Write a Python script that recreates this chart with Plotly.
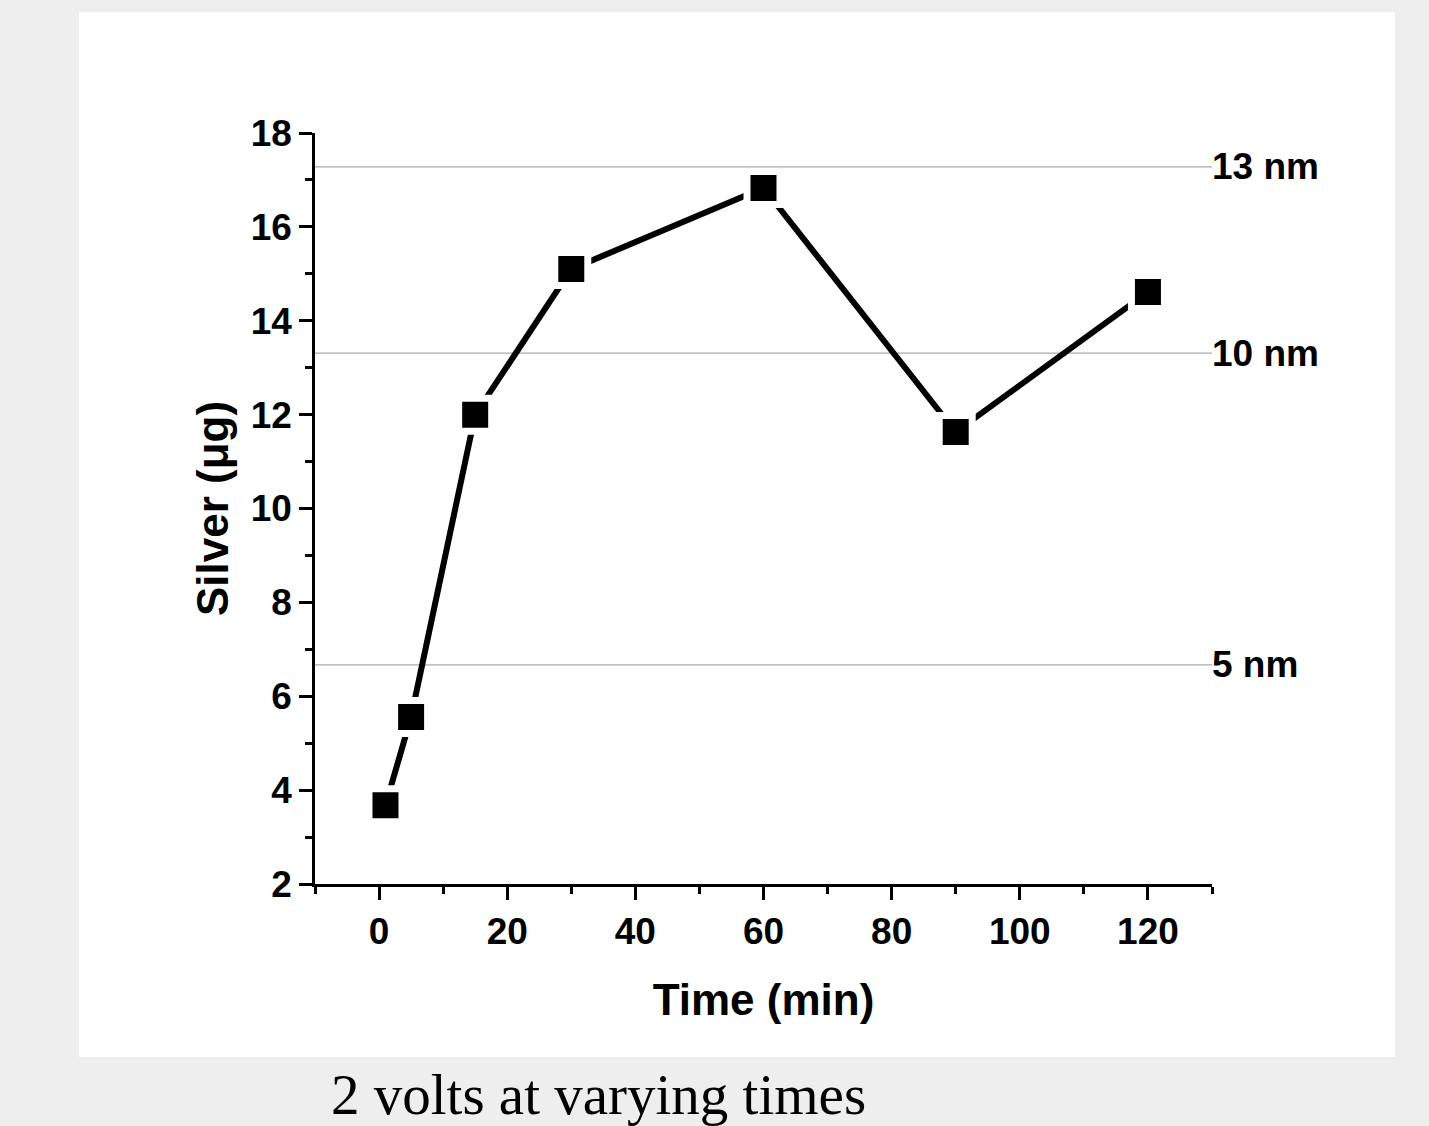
import plotly.graph_objects as go

# Data
time_min = [1, 5, 15, 30, 60, 90, 120]
silver_ug = [3.68, 5.56, 12.0, 15.1, 16.83, 11.63, 14.61]
size_levels = [17.28, 13.31, 6.67]
size_labels = ["13 nm", "10 nm", "5 nm"]
caption = "2 volts at varying times"

W, H = 1429, 1126
L, R, T, B = 315, W - 1212, 133, H - 884
pw, ph = W - L - R, H - T - B

def px_to_paper_x(px):
    return (px - L) / pw

def px_to_paper_y(py):
    return 1 - (py - T) / ph

fig = go.Figure()

fig.add_trace(go.Scatter(
    x=time_min, y=silver_ug, mode="lines+markers",
    line=dict(color="black", width=6),
    marker=dict(symbol="square", size=33, color="black",
                line=dict(color="white", width=7)),
    showlegend=False, cliponaxis=False, hoverinfo="skip",
))

shapes = [dict(type="rect", xref="paper", yref="paper",
               x0=px_to_paper_x(79), x1=px_to_paper_x(1395),
               y0=px_to_paper_y(1057), y1=px_to_paper_y(12),
               fillcolor="white", line=dict(width=0), layer="below")]
annotations = []
for lvl, lab in zip(size_levels, size_labels):
    shapes.append(dict(type="line", xref="paper", yref="y", x0=0, x1=1,
                       y0=lvl, y1=lvl, line=dict(color="#aaaaaa", width=1.2),
                       layer="below"))
    annotations.append(dict(x=1, xref="paper", y=lvl, yref="y", text=lab,
                            showarrow=False, xanchor="left", yanchor="middle",
                            xshift=-2,
                            font=dict(family="Liberation Sans, Arial", size=37,
                                      color="black", weight="bold")))
annotations.append(dict(x=px_to_paper_x(598), xref="paper",
                        y=px_to_paper_y(1094), yref="paper", text=caption,
                        showarrow=False, xanchor="center", yanchor="middle",
                        font=dict(family="Liberation Serif, DejaVu Serif, serif",
                                  size=57, color="black")))

tickfont = dict(family="Liberation Sans, Arial", size=37, color="black", weight="bold")
titlefont = dict(family="Liberation Sans, Arial", size=44, color="black", weight="bold")

fig.update_layout(
    width=W, height=H,
    margin=dict(l=L, r=R, t=T, b=B),
    paper_bgcolor="#eeeeee", plot_bgcolor="white",
    shapes=shapes, annotations=annotations,
    xaxis=dict(range=[-10, 130], tick0=0, dtick=20, ticks="outside",
               ticklen=13, tickwidth=2.5, tickcolor="black",
               showline=True, linecolor="black", linewidth=2.5,
               showgrid=False, zeroline=False, tickfont=tickfont,
               minor=dict(dtick=10, tick0=0, ticks="outside", ticklen=7,
                          tickwidth=2.5, tickcolor="black", showgrid=False),
               title=dict(text="Time (min)", font=titlefont, standoff=34)),
    yaxis=dict(range=[2, 18], tick0=2, dtick=2, ticks="outside",
               ticklen=13, tickwidth=2.5, tickcolor="black",
               showline=True, linecolor="black", linewidth=2.5,
               showgrid=False, zeroline=False, tickfont=tickfont,
               minor=dict(dtick=1, tick0=0, ticks="outside", ticklen=7,
                          tickwidth=2.5, tickcolor="black", showgrid=False),
               title=dict(text="Silver (μg)", font=titlefont, standoff=9)),
)

fig.write_html("out.html", config={"displayModeBar": False},
               post_script="document.body.style.margin='0';"
                           "document.body.style.background='#eeeeee';")
